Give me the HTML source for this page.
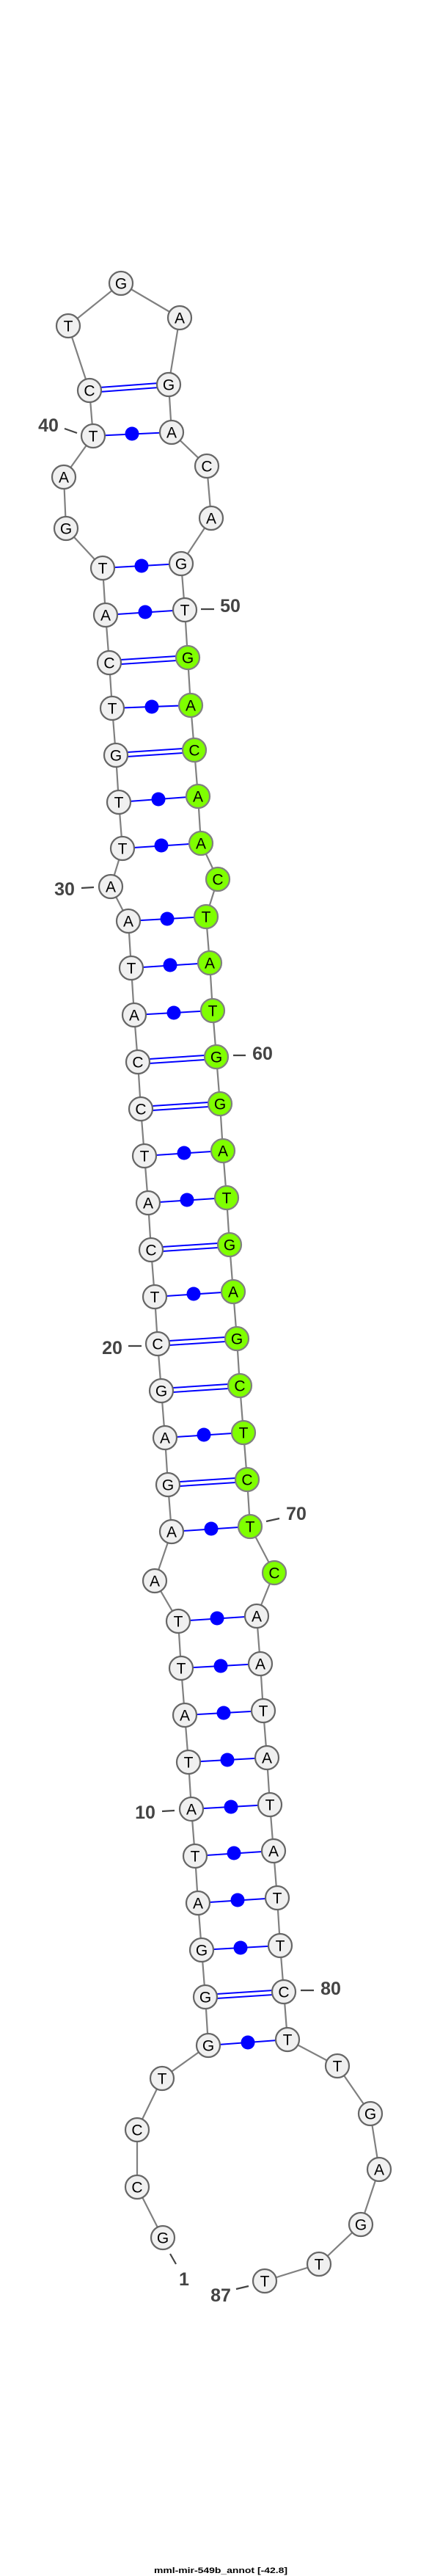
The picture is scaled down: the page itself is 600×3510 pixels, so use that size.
<!DOCTYPE html>
<html><head><meta charset="utf-8"><style>
html,body{margin:0;padding:0;background:#fff;}
svg{display:block;}
</style></head><body>
<svg width="600" height="3510" viewBox="0 0 600 3510" xmlns="http://www.w3.org/2000/svg">
<g stroke="#808080" stroke-width="2.2" fill="none">
<polyline points="222,3049 187,2980 187,2902 221,2832 284,2787 280,2721 275,2657 270,2593 266,2529 261,2465 257,2401 252,2337 247,2273 243,2209 211,2154 234,2087 229,2023 225,1959 220,1895 215,1831 211,1767 206,1703 202,1639 197,1575 192,1511 188,1447 183,1383 179,1319 175,1255 151,1208 167,1156 162,1093 158,1029 153,965 149,903 144,838 140,774 90,720 87,650 127,594 122,532 93,444 165,386 245,433 230,524 234,589 282,635 288,706 247,768 252,831 256,896 260,961 265,1022 270,1085 274,1149 297,1198 281,1249 286,1312 290,1377 295,1440 300,1504 304,1568 309,1632 313,1696 318,1760 323,1824 327,1888 332,1952 337,2016 341,2080 374,2143 350,2202 355,2267 359,2331 364,2395 368,2459 373,2522 378,2586 382,2651 387,2714 392,2779 460,2815 505,2880 517,2956 492,3031 435,3085 361,3108"/>
</g>
<g stroke="#0000ff" stroke-width="2">
<!-- double lines (GC) -->
<line x1="122" y1="529" x2="230" y2="521"/><line x1="122" y1="535" x2="230" y2="527"/>
<line x1="149" y1="900" x2="256" y2="893"/><line x1="149" y1="906" x2="256" y2="899"/>
<line x1="158" y1="1026" x2="265" y2="1019"/><line x1="158" y1="1032" x2="265" y2="1025"/>
<line x1="188" y1="1444" x2="295" y2="1437"/><line x1="188" y1="1450" x2="295" y2="1443"/>
<line x1="192" y1="1508" x2="300" y2="1501"/><line x1="192" y1="1514" x2="300" y2="1507"/>
<line x1="206" y1="1700" x2="313" y2="1693"/><line x1="206" y1="1706" x2="313" y2="1699"/>
<line x1="215" y1="1828" x2="323" y2="1821"/><line x1="215" y1="1834" x2="323" y2="1827"/>
<line x1="220" y1="1892" x2="327" y2="1885"/><line x1="220" y1="1898" x2="327" y2="1891"/>
<line x1="229" y1="2020" x2="337" y2="2013"/><line x1="229" y1="2026" x2="337" y2="2019"/>
<line x1="280" y1="2718" x2="387" y2="2711"/><line x1="280" y1="2724" x2="387" y2="2717"/>
<!-- single lines -->
<line x1="127" y1="594" x2="234" y2="589"/>
<line x1="140" y1="774" x2="247" y2="768"/>
<line x1="144" y1="838" x2="252" y2="831"/>
<line x1="153" y1="965" x2="260" y2="961"/>
<line x1="162" y1="1093" x2="270" y2="1085"/>
<line x1="167" y1="1156" x2="274" y2="1149"/>
<line x1="175" y1="1255" x2="281" y2="1249"/>
<line x1="179" y1="1319" x2="286" y2="1312"/>
<line x1="183" y1="1383" x2="290" y2="1377"/>
<line x1="197" y1="1575" x2="304" y2="1568"/>
<line x1="202" y1="1639" x2="309" y2="1632"/>
<line x1="211" y1="1767" x2="318" y2="1760"/>
<line x1="225" y1="1959" x2="332" y2="1952"/>
<line x1="234" y1="2087" x2="341" y2="2080"/>
<line x1="243" y1="2209" x2="350" y2="2202"/>
<line x1="247" y1="2273" x2="355" y2="2267"/>
<line x1="252" y1="2337" x2="359" y2="2331"/>
<line x1="257" y1="2401" x2="364" y2="2395"/>
<line x1="261" y1="2465" x2="368" y2="2459"/>
<line x1="266" y1="2529" x2="373" y2="2522"/>
<line x1="270" y1="2593" x2="378" y2="2586"/>
<line x1="275" y1="2657" x2="382" y2="2651"/>
<line x1="284" y1="2787" x2="392" y2="2779"/>
</g>
<g fill="#0000ff">
<circle cx="180" cy="591" r="9.5"/><circle cx="193" cy="771" r="9.5"/><circle cx="198" cy="834" r="9.5"/>
<circle cx="207" cy="963" r="9.5"/><circle cx="216" cy="1089" r="9.5"/><circle cx="220" cy="1152" r="9.5"/>
<circle cx="228" cy="1252" r="9.5"/><circle cx="232" cy="1315" r="9.5"/><circle cx="237" cy="1380" r="9.5"/>
<circle cx="251" cy="1571" r="9.5"/><circle cx="255" cy="1635" r="9.5"/><circle cx="264" cy="1763" r="9.5"/>
<circle cx="278" cy="1955" r="9.5"/><circle cx="288" cy="2083" r="9.5"/><circle cx="296" cy="2205" r="9.5"/>
<circle cx="301" cy="2270" r="9.5"/><circle cx="305" cy="2334" r="9.5"/><circle cx="310" cy="2398" r="9.5"/>
<circle cx="315" cy="2462" r="9.5"/><circle cx="319" cy="2525" r="9.5"/><circle cx="324" cy="2589" r="9.5"/>
<circle cx="328" cy="2654" r="9.5"/><circle cx="338" cy="2783" r="9.5"/>
</g>
<g stroke="#666" stroke-width="2.2" fill="#f0f0f0">
<circle cx="222" cy="3049" r="16"/><circle cx="187" cy="2980" r="16"/><circle cx="187" cy="2902" r="16"/><circle cx="221" cy="2832" r="16"/><circle cx="284" cy="2787" r="16"/>
<circle cx="280" cy="2721" r="16"/><circle cx="275" cy="2657" r="16"/><circle cx="270" cy="2593" r="16"/><circle cx="266" cy="2529" r="16"/><circle cx="261" cy="2465" r="16"/>
<circle cx="257" cy="2401" r="16"/><circle cx="252" cy="2337" r="16"/><circle cx="247" cy="2273" r="16"/><circle cx="243" cy="2209" r="16"/><circle cx="211" cy="2154" r="16"/>
<circle cx="234" cy="2087" r="16"/><circle cx="229" cy="2023" r="16"/><circle cx="225" cy="1959" r="16"/><circle cx="220" cy="1895" r="16"/><circle cx="215" cy="1831" r="16"/>
<circle cx="211" cy="1767" r="16"/><circle cx="206" cy="1703" r="16"/><circle cx="202" cy="1639" r="16"/><circle cx="197" cy="1575" r="16"/><circle cx="192" cy="1511" r="16"/>
<circle cx="188" cy="1447" r="16"/><circle cx="183" cy="1383" r="16"/><circle cx="179" cy="1319" r="16"/><circle cx="175" cy="1255" r="16"/><circle cx="151" cy="1208" r="16"/>
<circle cx="167" cy="1156" r="16"/><circle cx="162" cy="1093" r="16"/><circle cx="158" cy="1029" r="16"/><circle cx="153" cy="965" r="16"/><circle cx="149" cy="903" r="16"/>
<circle cx="144" cy="838" r="16"/><circle cx="140" cy="774" r="16"/><circle cx="90" cy="720" r="16"/><circle cx="87" cy="650" r="16"/><circle cx="127" cy="594" r="16"/>
<circle cx="122" cy="532" r="16"/><circle cx="93" cy="444" r="16"/><circle cx="165" cy="386" r="16"/><circle cx="245" cy="433" r="16"/><circle cx="230" cy="524" r="16"/>
<circle cx="234" cy="589" r="16"/><circle cx="282" cy="635" r="16"/><circle cx="288" cy="706" r="16"/><circle cx="247" cy="768" r="16"/><circle cx="252" cy="831" r="16"/>
<circle cx="350" cy="2202" r="16"/><circle cx="355" cy="2267" r="16"/><circle cx="359" cy="2331" r="16"/><circle cx="364" cy="2395" r="16"/><circle cx="368" cy="2459" r="16"/>
<circle cx="373" cy="2522" r="16"/><circle cx="378" cy="2586" r="16"/><circle cx="382" cy="2651" r="16"/><circle cx="387" cy="2714" r="16"/><circle cx="392" cy="2779" r="16"/>
<circle cx="460" cy="2815" r="16"/><circle cx="505" cy="2880" r="16"/><circle cx="517" cy="2956" r="16"/><circle cx="492" cy="3031" r="16"/><circle cx="435" cy="3085" r="16"/><circle cx="361" cy="3108" r="16"/>
</g>
<g stroke="#808080" stroke-width="2.2" fill="#7fff00">
<circle cx="256" cy="896" r="16"/><circle cx="260" cy="961" r="16"/><circle cx="265" cy="1022" r="16"/><circle cx="270" cy="1085" r="16"/><circle cx="274" cy="1149" r="16"/>
<circle cx="297" cy="1198" r="16"/><circle cx="281" cy="1249" r="16"/><circle cx="286" cy="1312" r="16"/><circle cx="290" cy="1377" r="16"/><circle cx="295" cy="1440" r="16"/>
<circle cx="300" cy="1504" r="16"/><circle cx="304" cy="1568" r="16"/><circle cx="309" cy="1632" r="16"/><circle cx="313" cy="1696" r="16"/><circle cx="318" cy="1760" r="16"/>
<circle cx="323" cy="1824" r="16"/><circle cx="327" cy="1888" r="16"/><circle cx="332" cy="1952" r="16"/><circle cx="337" cy="2016" r="16"/><circle cx="341" cy="2080" r="16"/><circle cx="374" cy="2143" r="16"/>
</g>
<g font-family="'Liberation Sans', sans-serif" font-size="21" text-anchor="middle" fill="#000" dominant-baseline="central">
<text x="222" y="3050">G</text><text x="187" y="2981">C</text><text x="187" y="2903">C</text><text x="221" y="2833">T</text><text x="284" y="2788">G</text>
<text x="280" y="2722">G</text><text x="275" y="2658">G</text><text x="270" y="2594">A</text><text x="266" y="2530">T</text><text x="261" y="2466">A</text>
<text x="257" y="2402">T</text><text x="252" y="2338">A</text><text x="247" y="2274">T</text><text x="243" y="2210">T</text><text x="211" y="2155">A</text>
<text x="234" y="2088">A</text><text x="229" y="2024">G</text><text x="225" y="1960">A</text><text x="220" y="1896">G</text><text x="215" y="1832">C</text>
<text x="211" y="1768">T</text><text x="206" y="1704">C</text><text x="202" y="1640">A</text><text x="197" y="1576">T</text><text x="192" y="1512">C</text>
<text x="188" y="1448">C</text><text x="183" y="1384">A</text><text x="179" y="1320">T</text><text x="175" y="1256">A</text><text x="151" y="1209">A</text>
<text x="167" y="1157">T</text><text x="162" y="1094">T</text><text x="158" y="1030">G</text><text x="153" y="966">T</text><text x="149" y="904">C</text>
<text x="144" y="839">A</text><text x="140" y="775">T</text><text x="90" y="721">G</text><text x="87" y="651">A</text><text x="127" y="595">T</text>
<text x="122" y="533">C</text><text x="93" y="445">T</text><text x="165" y="387">G</text><text x="245" y="434">A</text><text x="230" y="525">G</text>
<text x="234" y="590">A</text><text x="282" y="636">C</text><text x="288" y="707">A</text><text x="247" y="769">G</text><text x="252" y="832">T</text>
<text x="256" y="897">G</text><text x="260" y="962">A</text><text x="265" y="1023">C</text><text x="270" y="1086">A</text><text x="274" y="1150">A</text>
<text x="297" y="1199">C</text><text x="281" y="1250">T</text><text x="286" y="1313">A</text><text x="290" y="1378">T</text><text x="295" y="1441">G</text>
<text x="300" y="1505">G</text><text x="304" y="1569">A</text><text x="309" y="1633">T</text><text x="313" y="1697">G</text><text x="318" y="1761">A</text>
<text x="323" y="1825">G</text><text x="327" y="1889">C</text><text x="332" y="1953">T</text><text x="337" y="2017">C</text><text x="341" y="2081">T</text>
<text x="374" y="2144">C</text><text x="350" y="2203">A</text><text x="355" y="2268">A</text><text x="359" y="2332">T</text><text x="364" y="2396">A</text>
<text x="368" y="2460">T</text><text x="373" y="2523">A</text><text x="378" y="2587">T</text><text x="382" y="2652">T</text><text x="387" y="2715">C</text>
<text x="392" y="2780">T</text><text x="460" y="2816">T</text><text x="505" y="2881">G</text><text x="517" y="2957">A</text><text x="492" y="3032">G</text>
<text x="435" y="3086">T</text><text x="361" y="3109">T</text>
</g>
<g stroke="#444" stroke-width="2.2">
<line x1="88" y1="584" x2="105" y2="590"/>
<line x1="274" y1="830" x2="292" y2="830"/>
<line x1="111" y1="1210" x2="128" y2="1209"/>
<line x1="318" y1="1438" x2="335" y2="1438"/>
<line x1="175" y1="1834" x2="193" y2="1834"/>
<line x1="363" y1="2073" x2="381" y2="2069"/>
<line x1="221" y1="2468" x2="238" y2="2467"/>
<line x1="410" y1="2712" x2="428" y2="2712"/>
<line x1="232" y1="3071" x2="240" y2="3085"/>
<line x1="322" y1="3119" x2="339" y2="3115"/>
</g>
<g font-family="'Liberation Sans', sans-serif" font-size="25" font-weight="bold" fill="#444" text-anchor="middle" dominant-baseline="central">
<text x="66" y="580">40</text>
<text x="314" y="826">50</text>
<text x="88" y="1212">30</text>
<text x="358" y="1436">60</text>
<text x="153" y="1837">20</text>
<text x="404" y="2063">70</text>
<text x="198" y="2470">10</text>
<text x="451" y="2710">80</text>
<text x="251" y="3106">1</text>
<text x="301" y="3128">87</text>
</g>
<text x="210" y="3506" font-family="'Liberation Sans', sans-serif" font-size="11" font-weight="bold" fill="#000" textLength="182" lengthAdjust="spacingAndGlyphs">mml-mir-549b_annot [-42.8]</text>
</svg>
</body></html>
